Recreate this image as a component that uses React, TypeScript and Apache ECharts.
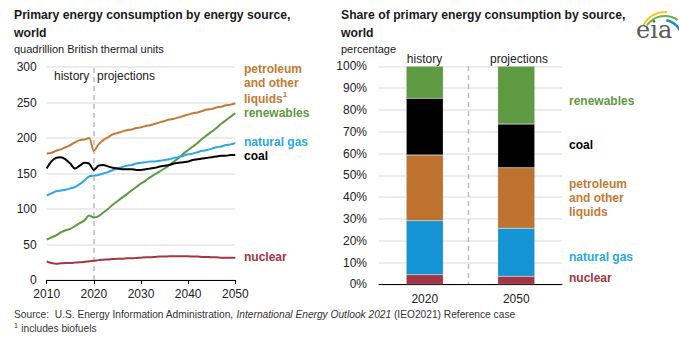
import React, { useEffect, useRef } from "react";
import * as echarts from "echarts";

const years = [
  2010, 2011, 2012, 2013, 2014, 2015, 2016, 2017, 2018, 2019, 2020,
  2021, 2022, 2023, 2024, 2025, 2026, 2027, 2028, 2029, 2030,
  2031, 2032, 2033, 2034, 2035, 2036, 2037, 2038, 2039, 2040,
  2041, 2042, 2043, 2044, 2045, 2046, 2047, 2048, 2049, 2050,
];

const petroleum = [
  178, 179, 182, 184, 187, 190, 194, 197, 198, 200, 182,
  191, 197, 201, 205, 207, 209, 211, 212, 214, 215,
  217, 218, 220, 222, 224, 226, 227, 229, 231, 233,
  235, 236, 238, 240, 241, 243, 244, 246, 247, 249,
];

const renewables = [
  57, 60, 63, 67, 70, 72, 76, 80, 84, 91, 88,
  90, 95, 100, 106, 111, 116, 121, 126, 131, 136,
  140, 145, 149, 153, 157, 162, 167, 172, 178, 183,
  188, 193, 199, 204, 209, 214, 220, 225, 230, 235,
];

const naturalGas = [
  119, 122, 125, 126, 127, 129, 131, 135, 140, 146, 147,
  148, 150, 152, 155, 157, 159, 161, 162, 164, 165,
  166, 167, 167, 168, 169, 170, 172, 173, 175, 177,
  178, 180, 182, 183, 185, 187, 188, 190, 191, 193,
];

const coal = [
  157, 167, 172, 173, 170, 164, 157, 161, 165, 164, 155,
  161, 162, 160, 158, 157, 156, 156, 156, 155, 155,
  156, 157, 158, 160, 161, 162, 164, 165, 166, 167,
  169, 170, 171, 172, 173, 174, 175, 175, 176, 176,
];

const nuclear = [
  26, 24, 23, 23.5, 24, 24, 24.5, 25, 25.5, 26.5, 27,
  28, 28.5, 29, 29.5, 30, 30, 30.5, 30.5, 31, 31.5,
  32, 32, 32.5, 33, 33, 33.5, 33.5, 33.5, 33.5, 33.5,
  33, 33, 32.5, 32.5, 32, 32, 31.5, 31.5, 31.5, 31.5,
];

const shareYears = ["2020", "2050"];
const shareNuclear = [4.4, 3.7];
const shareGas = [24.8, 22.0];
const sharePetroleum = [30.1, 27.8];
const shareCoal = [26.0, 20.0];
const shareRenewables = [14.7, 26.5];

const leftTicks = [0, 50, 100, 150, 200, 250, 300];

const C = {
  petroleum: "#bd732f",
  petroleumLine: "#c27a34",
  renewables: "#5e9a42",
  gas: "#1494d4",
  gasLine: "#2aa8e6",
  coal: "#000000",
  nuclear: "#a33545",
};

const FONT = "Liberation Sans, Arial, sans-serif";

function pairs(ys: number[]) {
  return years.map((y, i) => [y, ys[i]]);
}

export default function App() {
  const ref = useRef<HTMLDivElement>(null);

  useEffect(() => {
    if (!ref.current) return;
    const chart = echarts.init(ref.current, undefined, { renderer: "svg" });

    const txt = (
      x: number,
      y: number,
      text: string,
      opts: any = {}
    ) => ({
      type: "text",
      x,
      y,
      style: {
        text,
        fontFamily: FONT,
        fontSize: 12,
        fill: "#222",
        textVerticalAlign: "middle",
        ...opts,
      },
    });

    const lineSeries = (name: string, data: number[], color: string, extra: any = {}) => ({
      name,
      type: "line",
      xAxisIndex: 0,
      yAxisIndex: 0,
      data: pairs(data),
      showSymbol: false,
      symbol: "none",
      smooth: 0.3,
      lineStyle: { color, width: 2 },
      itemStyle: { color },
      z: 3,
      ...extra,
    });

    const barSeries = (name: string, data: number[], color: string) => ({
      name,
      type: "bar",
      xAxisIndex: 1,
      yAxisIndex: 1,
      stack: "share",
      data,
      barWidth: 37,
      itemStyle: { color, borderColor: "rgba(200,200,200,0.6)", borderWidth: 0.5 },
    });

    const titleStyle = { fontSize: 12.2, fontWeight: "bold", fill: "#1a1a1a" };

    const option: any = {
      animation: false,
      textStyle: { fontFamily: FONT },
      grid: [
        { left: 46.7, top: 67, width: 188.6, height: 213 },
        { left: 379, top: 66.3, width: 183, height: 218 },
      ],
      xAxis: [
        {
          type: "value",
          gridIndex: 0,
          min: 2010,
          max: 2050,
          interval: 10,
          axisLine: { lineStyle: { color: "#000", width: 1 } },
          axisTick: { show: true, length: 4, lineStyle: { color: "#000" } },
          axisLabel: {
            color: "#222",
            fontSize: 12,
            margin: 8,
            fontFamily: FONT,
            formatter: (v: number) => String(v),
          },
          splitLine: { show: false },
        },
        {
          type: "category",
          gridIndex: 1,
          data: shareYears,
          axisLine: { lineStyle: { color: "#000", width: 1 } },
          axisTick: { show: false },
          axisLabel: { color: "#222", fontSize: 12, margin: 9, fontFamily: FONT },
        },
      ],
      yAxis: [
        {
          type: "value",
          gridIndex: 0,
          min: leftTicks[0],
          max: leftTicks[leftTicks.length - 1],
          interval: 50,
          axisLine: { show: false },
          axisTick: { show: false },
          axisLabel: { color: "#222", fontSize: 12, margin: 10, fontFamily: FONT },
          splitLine: { lineStyle: { color: "#e6e6e6", width: 1.5 } },
        },
        {
          type: "value",
          gridIndex: 1,
          min: 0,
          max: 100,
          interval: 10,
          axisLine: { show: false },
          axisTick: { show: false },
          axisLabel: { color: "#222", fontSize: 12, margin: 12, formatter: "{value}%", fontFamily: FONT },
          splitLine: { lineStyle: { color: "#e6e6e6", width: 1.5 } },
        },
      ],
      series: [
        lineSeries("nuclear", nuclear, C.nuclear, {
          markLine: {
            silent: true,
            symbol: "none",
            label: { show: false },
            lineStyle: { color: "#bbbbbb", type: [5, 4], width: 1.5 },
            data: [{ xAxis: 2020 }],
            z: 1,
          },
        }),
        lineSeries("renewables", renewables, C.renewables),
        lineSeries("natural gas", naturalGas, C.gasLine),
        lineSeries("coal", coal, C.coal),
        lineSeries("petroleum", petroleum, C.petroleumLine),
        barSeries("nuclear", shareNuclear, C.nuclear),
        barSeries("natural gas", shareGas, C.gas),
        barSeries("petroleum", sharePetroleum, C.petroleum),
        barSeries("coal", shareCoal, C.coal),
        barSeries("renewables", shareRenewables, C.renewables),
      ],
      graphic: [
        // left titles
        txt(14, 15, "Primary energy consumption by energy source,", titleStyle),
        txt(14, 33, "world", titleStyle),
        txt(14, 49, "quadrillion British thermal units", { fontSize: 11, fill: "#1a1a1a" }),
        txt(54, 76, "history", { fontSize: 12 }),
        txt(97, 76, "projections", { fontSize: 12 }),
        // left labels
        txt(244, 69, "petroleum", { fontWeight: "bold", fill: C.petroleumLine }),
        txt(244, 83, "and other", { fontWeight: "bold", fill: C.petroleumLine }),
        {
          type: "text",
          x: 244,
          y: 97.5,
          style: {
            text: "{a|liquids}{s|1}",
            rich: {
              a: { fontFamily: FONT, fontSize: 12, fontWeight: "bold", fill: C.petroleumLine, verticalAlign: "bottom" },
              s: { fontFamily: FONT, fontSize: 8, fontWeight: "bold", fill: C.petroleumLine, verticalAlign: "top", padding: [0, 0, 6, 0] },
            },
            textVerticalAlign: "middle",
          },
        },
        txt(244, 112.5, "renewables", { fontWeight: "bold", fill: C.renewables }),
        txt(244, 142, "natural gas", { fontWeight: "bold", fill: C.gasLine }),
        txt(244, 156, "coal", { fontWeight: "bold", fill: "#000" }),
        txt(244, 256.5, "nuclear", { fontWeight: "bold", fill: C.nuclear }),
        // right titles
        txt(341, 15, "Share of primary energy consumption by source,", titleStyle),
        txt(341, 33, "world", titleStyle),
        txt(341, 49, "percentage", { fontSize: 11, fill: "#1a1a1a" }),
        txt(424.5, 59, "history", { textAlign: "center" }),
        txt(519, 59, "projections", { textAlign: "center" }),
        // right divider
        {
          type: "line",
          shape: { x1: 468.5, y1: 66, x2: 468.5, y2: 284 },
          style: { stroke: "#bbbbbb", lineWidth: 1.5, lineDash: [5, 4] },
          z: 1,
        },
        // right labels
        txt(569, 101, "renewables", { fontWeight: "bold", fill: C.renewables }),
        txt(569, 145, "coal", { fontWeight: "bold", fill: "#000" }),
        txt(569, 184, "petroleum", { fontWeight: "bold", fill: C.petroleumLine }),
        txt(569, 198, "and other", { fontWeight: "bold", fill: C.petroleumLine }),
        txt(569, 212, "liquids", { fontWeight: "bold", fill: C.petroleumLine }),
        txt(569, 257, "natural gas", { fontWeight: "bold", fill: C.gasLine }),
        txt(569, 278, "nuclear", { fontWeight: "bold", fill: C.nuclear }),
        // footer
        {
          type: "text",
          x: 14,
          y: 314,
          style: {
            text: "{n|Source:  U.S. Energy Information Administration, }{i|International Energy Outlook 2021}{n| (IEO2021) Reference case}",
            rich: {
              n: { fontFamily: FONT, fontSize: 10.2, fill: "#333" },
              i: { fontFamily: FONT, fontSize: 10.2, fill: "#333", fontStyle: "italic" },
            },
            textVerticalAlign: "middle",
          },
        },
        {
          type: "text",
          x: 14,
          y: 328,
          style: {
            text: "{s|1} {n|includes biofuels}",
            rich: {
              n: { fontFamily: FONT, fontSize: 10.2, fill: "#333" },
              s: { fontFamily: FONT, fontSize: 7, fill: "#333", padding: [0, 0, 5, 0] },
            },
            textVerticalAlign: "middle",
          },
        },
        // eia logo
        {
          type: "arc",
          shape: { cx: 665, cy: 36, r: 24, startAngle: (-155 * Math.PI) / 180, endAngle: (-85 * Math.PI) / 180 },
          style: { stroke: "#f2c81f", lineWidth: 2, fill: "none" },
        },
        {
          type: "arc",
          shape: { cx: 665, cy: 38, r: 22, startAngle: (-145 * Math.PI) / 180, endAngle: (-55 * Math.PI) / 180 },
          style: { stroke: "#6db33f", lineWidth: 2, fill: "none" },
        },
        {
          type: "arc",
          shape: { cx: 663, cy: 39, r: 19, startAngle: (-80 * Math.PI) / 180, endAngle: (-5 * Math.PI) / 180 },
          style: { stroke: "#1b8fd0", lineWidth: 2.5, fill: "none" },
        },
        {
          type: "text",
          x: 636,
          y: 30,
          style: {
            text: "eia",
            fontFamily: "DejaVu Serif, Liberation Serif, serif",
            fontSize: 24,
            fill: "#5a5a5a",
            textVerticalAlign: "middle",
          },
        },
      ],
    };

    chart.setOption(option);
    return () => chart.dispose();
  }, []);

  return (
    <div
      ref={ref}
      style={{ position: "fixed", left: 0, top: 0, width: 679, height: 340, background: "#fff" }}
    />
  );
}
